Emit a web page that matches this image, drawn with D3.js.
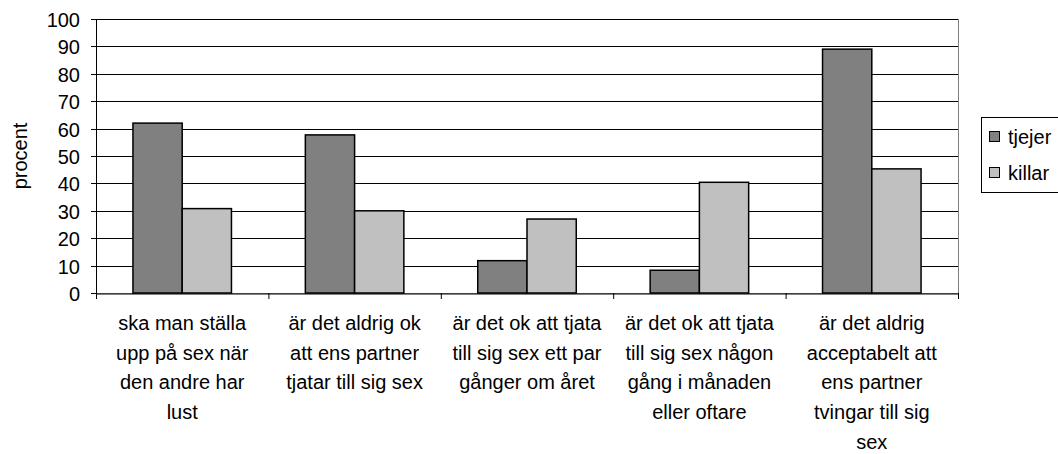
<!DOCTYPE html>
<html>
<head>
<meta charset="utf-8">
<script src="https://cdn.jsdelivr.net/npm/d3@7"></script>
<style>
  body { margin: 0; background: #fff; }
  text { font-family: "Liberation Sans", Arial, sans-serif; fill: #000; }
</style>
</head>
<body>
<div id="chart"></div>
<script>
// categories (wrapped into lines the way they appear)
var categories = [
    ["ska man ställa", "upp på sex när", "den andre har", "lust"],
    ["är det aldrig ok", "att ens partner", "tjatar till sig sex"],
    ["är det ok att tjata", "till sig sex ett par", "gånger om året"],
    ["är det ok att tjata", "till sig sex någon", "gång i månaden", "eller oftare"],
    ["är det aldrig", "acceptabelt att", "ens partner", "tvingar till sig", "sex"]
];
var seriesNames = ["tjejer", "killar"];
var tjejer = [62, 57.7, 11.8, 8.3, 89];
var killar = [30.8, 30, 27, 40.4, 45.3];
var yTicks = [0, 10, 20, 30, 40, 50, 60, 70, 80, 90, 100];
var colors = ["#808080", "#c0c0c0"];

var W = 1058, H = 454;
var margin = {top: 19, left: 96},
    width = 958 - margin.left,
    height = 293 - margin.top;

var svg = d3.select("#chart").append("svg")
    .attr("width", W)
    .attr("height", H);

var g = svg.append("g")
    .attr("transform", "translate(" + margin.left + "," + margin.top + ")");

var idx = categories.map((d, i) => i);
var x = d3.scaleBand().domain(idx).range([0, width]);
var inner = d3.scaleBand().domain([0, 1]).range([0, x.bandwidth()]).paddingOuter(0.75).paddingInner(0);
var y = d3.scaleLinear().domain([0, 100]).range([height, 0]);

// plot border (grey)
g.append("rect")
    .attr("x", 0.5).attr("y", 0.5)
    .attr("width", width).attr("height", height)
    .attr("fill", "none")
    .attr("stroke", "#808080")
    .attr("stroke-width", 1);

// gridlines
g.append("g")
    .selectAll("line")
    .data(yTicks.filter(d => d > 0))
    .join("line")
    .attr("x1", 0).attr("x2", width)
    .attr("y1", d => Math.round(y(d)) + 0.5)
    .attr("y2", d => Math.round(y(d)) + 0.5)
    .attr("stroke", "#000")
    .attr("stroke-width", 1);

// bars
var series = [tjejer, killar];
series.forEach((vals, s) => {
    g.append("g")
        .selectAll("rect")
        .data(vals)
        .join("rect")
        .attr("x", (d, i) => x(i) + inner(s))
        .attr("y", d => y(d))
        .attr("width", inner.bandwidth())
        .attr("height", d => height - y(d))
        .attr("fill", colors[s])
        .attr("stroke", "#000")
        .attr("stroke-width", 1.5);
});

// y axis
var yAxis = g.append("g")
    .call(d3.axisLeft(y).tickValues(yTicks).tickSize(5).tickPadding(11));
yAxis.select(".domain").attr("stroke", "#000");
yAxis.selectAll("text").style("font-size", "20px").attr("dy", "0.36em");
yAxis.selectAll(".tick").attr("transform", d => "translate(0," + (Math.round(y(d)) + 0.5) + ")");

// x axis
var xAxis = g.append("g")
    .attr("transform", "translate(0," + (height + 0.5) + ")")
    .call(d3.axisBottom(x).tickSize(0).tickFormat(""));
xAxis.select(".domain").attr("stroke", "#000");
xAxis.selectAll(".tick line").remove();

// category separator ticks
g.append("g")
    .selectAll("line")
    .data(idx.concat([categories.length]))
    .join("line")
    .attr("x1", d => (d < categories.length ? x(d) : width) + 0.5)
    .attr("x2", d => (d < categories.length ? x(d) : width) + 0.5)
    .attr("y1", height)
    .attr("y2", height + 6)
    .attr("stroke", "#000");

// category labels
var labels = g.append("g")
    .selectAll("text")
    .data(categories)
    .join("text")
    .attr("text-anchor", "middle")
    .style("font-size", "20px")
    .attr("transform", (d, i) => "translate(" + (x(i) + x.bandwidth() / 2) + "," + (height + 37) + ")");
labels.selectAll("tspan")
    .data(d => d)
    .join("tspan")
    .attr("x", 0)
    .attr("y", (d, i) => i * 29.7)
    .text(d => d);

// y axis title
svg.append("text")
    .attr("transform", "translate(27," + (margin.top + height / 2) + ") rotate(-90)")
    .attr("text-anchor", "middle")
    .style("font-size", "20px")
    .text("procent");

// legend
var legend = svg.append("g").attr("transform", "translate(981,117)");
legend.append("rect")
    .attr("x", 0.5).attr("y", 0.5)
    .attr("width", 85).attr("height", 75)
    .attr("fill", "#fff")
    .attr("stroke", "#000");
var items = legend.selectAll("g.item")
    .data(seriesNames)
    .join("g")
    .attr("class", "item")
    .attr("transform", (d, i) => "translate(8," + (20 + i * 36) + ")");
items.append("rect")
    .attr("x", 0.5).attr("y", -5.5)
    .attr("width", 10).attr("height", 10)
    .attr("fill", (d, i) => colors[i])
    .attr("stroke", "#000");
items.append("text")
    .attr("x", 19)
    .attr("dy", "0.36em")
    .style("font-size", "20px")
    .text(d => d);
</script>
</body>
</html>
